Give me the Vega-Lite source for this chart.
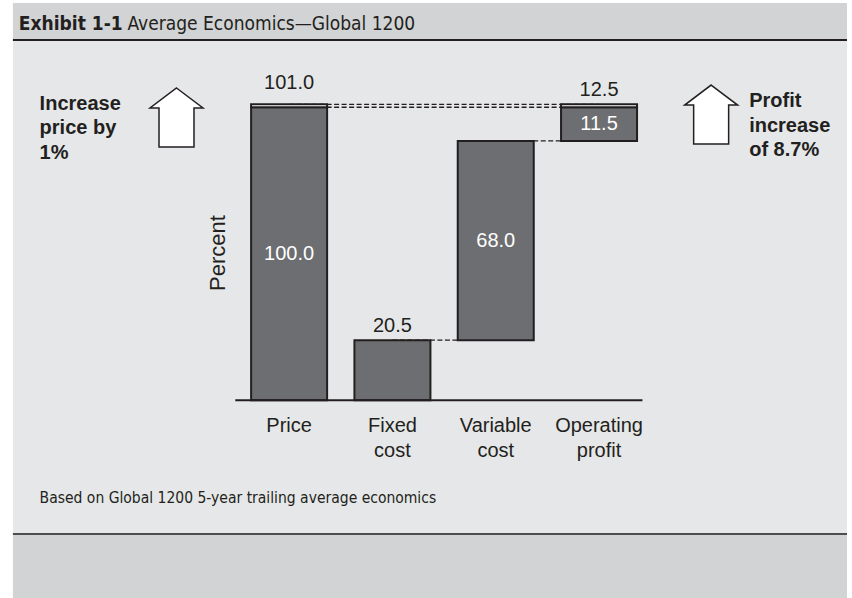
{
  "$schema": "https://vega.github.io/schema/vega-lite/v6.json",
  "width": 852,
  "height": 598,
  "padding": 0,
  "autosize": {"type": "none"},
  "background": "#ffffff",
  "config": {"view": {"stroke": null}, "text": {"font": "Liberation Sans", "color": "#231f20"}},
  "datasets": {
    "bars": [
      {"step": 1, "category": "Price", "start": 0, "end": 100, "part": "base"},
      {"step": 1, "category": "Price", "start": 100, "end": 101, "part": "increase"},
      {"step": 2, "category": "Fixed cost", "start": 0, "end": 20.5, "part": "base"},
      {"step": 3, "category": "Variable cost", "start": 20.5, "end": 88.5, "part": "base"},
      {"step": 4, "category": "Operating profit", "start": 88.5, "end": 100, "part": "base"},
      {"step": 4, "category": "Operating profit", "start": 100, "end": 101, "part": "increase"}
    ],
    "connectors": [
      {"from": 1, "to": 4, "level": 101},
      {"from": 1, "to": 4, "level": 100},
      {"from": 2, "to": 3, "level": 20.5},
      {"from": 3, "to": 4, "level": 88.5}
    ],
    "labels": [
      {"step": 1, "text": "101.0", "value": 101, "pos": "above"},
      {"step": 4, "text": "12.5", "value": 101, "pos": "above"},
      {"step": 2, "text": "20.5", "value": 20.5, "pos": "above"},
      {"step": 1, "text": "100.0", "value": 50, "pos": "inside"},
      {"step": 3, "text": "68.0", "value": 54.5, "pos": "inside"},
      {"step": 4, "text": "11.5", "value": 94.25, "pos": "inside"}
    ],
    "categories": [
      {"step": 1, "label": "Price"},
      {"step": 2, "label": "Fixed\ncost"},
      {"step": 3, "label": "Variable\ncost"},
      {"step": 4, "label": "Operating\nprofit"}
    ],
    "panel": [
      {"part": "header"},
      {"part": "body"},
      {"part": "footer"}
    ],
    "notes": [
      {"id": "exhibit", "text": "Exhibit 1-1"},
      {"id": "title", "text": "Average Economics—Global 1200"},
      {"id": "left", "text": "Increase\nprice by\n1%"},
      {"id": "right", "text": "Profit\nincrease\nof 8.7%"},
      {"id": "ytitle", "text": "Percent"},
      {"id": "footnote", "text": "Based on Global 1200 5-year trailing average economics"}
    ]
  },
  "layer": [
    {"data": {"name": "panel"},
     "transform": [{"filter": "datum.part == 'header'"}],
     "mark": {"type": "rect", "fill": "#d1d3d4"},
     "encoding": {
       "x": {"datum": -1.6735, "type": "quantitative", "scale": {"type": "linear", "domain": [-1.75, 6.4], "nice": false, "zero": false}, "axis": null},
       "x2": {"datum": 6.4},
       "y": {"datum": 135.58, "type": "quantitative", "scale": {"type": "linear", "domain": [-67.5, 136.6], "nice": false, "zero": false}, "axis": null},
       "y2": {"datum": 122.95}}},
    {"data": {"name": "panel"},
     "transform": [{"filter": "datum.part == 'body'"}],
     "mark": {"type": "rect", "fill": "#e6e7e8"},
     "encoding": {
       "x": {"datum": -1.6735, "type": "quantitative"},
       "x2": {"datum": 6.4},
       "y": {"datum": 122.95, "type": "quantitative"},
       "y2": {"datum": -45.66}}},
    {"data": {"name": "panel"},
     "transform": [{"filter": "datum.part == 'footer'"}],
     "mark": {"type": "rect", "fill": "#d1d3d4"},
     "encoding": {
       "x": {"datum": -1.6735, "type": "quantitative"},
       "x2": {"datum": 6.4},
       "y": {"datum": -45.66, "type": "quantitative"},
       "y2": {"datum": -67.5}}},
    {"data": {"name": "panel"},
     "transform": [{"filter": "datum.part == 'header'"}],
     "mark": {"type": "rule", "stroke": "#231f20", "strokeWidth": 2},
     "encoding": {
       "x": {"datum": -1.6735, "type": "quantitative"},
       "x2": {"datum": 6.4},
       "y": {"datum": 122.95, "type": "quantitative"}}},
    {"data": {"name": "panel"},
     "transform": [{"filter": "datum.part == 'footer'"}],
     "mark": {"type": "rule", "stroke": "#4d4d4f", "strokeWidth": 2},
     "encoding": {
       "x": {"datum": -1.6735, "type": "quantitative"},
       "x2": {"datum": 6.4},
       "y": {"datum": -45.66, "type": "quantitative"}}},
    {"data": {"name": "connectors"},
     "mark": {"type": "rule", "strokeDash": [5, 2.5], "strokeWidth": 1.3, "color": "#231f20"},
     "encoding": {
       "x": {"field": "from", "type": "quantitative"},
       "x2": {"field": "to"},
       "y": {"field": "level", "type": "quantitative"}}},
    {"data": {"name": "bars"},
     "mark": {"type": "bar", "width": 76, "stroke": "#231f20", "strokeWidth": 2},
     "encoding": {
       "x": {"field": "step", "type": "quantitative"},
       "y": {"field": "start", "type": "quantitative"},
       "y2": {"field": "end"},
       "fill": {"field": "part", "type": "nominal", "scale": {"domain": ["base", "increase"], "range": ["#6d6e71", "#ffffff"]}, "legend": null},
       "tooltip": {"field": "category", "type": "nominal"}}},
    {"data": {"name": "categories"},
     "transform": [{"filter": "datum.step == 1"}],
     "mark": {"type": "rule", "stroke": "#231f20", "strokeWidth": 2},
     "encoding": {
       "x": {"datum": 0.479, "type": "quantitative"},
       "x2": {"datum": 4.42},
       "y": {"datum": 0, "type": "quantitative"}}},
    {"data": {"name": "labels"},
     "transform": [{"filter": "datum.pos == 'above' && datum.step == 1"}],
     "mark": {"type": "text", "fontSize": 20, "baseline": "alphabetic", "dy": -15},
     "encoding": {
       "x": {"field": "step", "type": "quantitative"},
       "y": {"field": "value", "type": "quantitative"},
       "text": {"field": "text"}}},
    {"data": {"name": "labels"},
     "transform": [{"filter": "datum.pos == 'above' && datum.step != 1"}],
     "mark": {"type": "text", "fontSize": 20, "baseline": "alphabetic", "dy": -8},
     "encoding": {
       "x": {"field": "step", "type": "quantitative"},
       "y": {"field": "value", "type": "quantitative"},
       "text": {"field": "text"}}},
    {"data": {"name": "labels"},
     "transform": [{"filter": "datum.pos == 'inside'"}],
     "mark": {"type": "text", "fontSize": 20, "baseline": "middle", "color": "#ffffff"},
     "encoding": {
       "x": {"field": "step", "type": "quantitative"},
       "y": {"field": "value", "type": "quantitative"},
       "text": {"field": "text"}}},
    {"data": {"name": "categories"},
     "mark": {"type": "text", "fontSize": 20, "baseline": "alphabetic", "dy": 32, "lineBreak": "\n", "lineHeight": 25},
     "encoding": {
       "x": {"field": "step", "type": "quantitative"},
       "y": {"datum": 0, "type": "quantitative"},
       "text": {"field": "label"}}},
    {"data": {"name": "notes"},
     "transform": [{"filter": "datum.id == 'left'"}],
     "mark": {"type": "point", "shape": "M0,-1L0.898,-0.322L0.593,-0.322L0.593,1L-0.593,1L-0.593,-0.322L-0.898,-0.322Z", "size": 3481, "filled": true, "fill": "#ffffff", "stroke": "#231f20", "strokeWidth": 1.5, "opacity": 1},
     "encoding": {
       "x": {"datum": -0.09, "type": "quantitative"},
       "y": {"datum": 96.5, "type": "quantitative"}}},
    {"data": {"name": "notes"},
     "transform": [{"filter": "datum.id == 'right'"}],
     "mark": {"type": "point", "shape": "M0,-1L0.898,-0.322L0.593,-0.322L0.593,1L-0.593,1L-0.593,-0.322L-0.898,-0.322Z", "size": 3481, "filled": true, "fill": "#ffffff", "stroke": "#231f20", "strokeWidth": 1.5, "opacity": 1},
     "encoding": {
       "x": {"datum": 5.085, "type": "quantitative"},
       "y": {"datum": 97.5, "type": "quantitative"}}},
    {"data": {"name": "notes"},
     "transform": [{"filter": "datum.id == 'exhibit'"}],
     "mark": {"type": "text", "font": "DejaVu Sans Condensed", "fontWeight": "bold", "fontSize": 19, "align": "left", "baseline": "alphabetic"},
     "encoding": {
       "x": {"datum": -1.616, "type": "quantitative"},
       "y": {"datum": 126.36, "type": "quantitative"},
       "text": {"field": "text"}}},
    {"data": {"name": "notes"},
     "transform": [{"filter": "datum.id == 'title'"}],
     "mark": {"type": "text", "font": "DejaVu Sans Condensed", "fontSize": 19, "align": "left", "baseline": "alphabetic"},
     "encoding": {
       "x": {"datum": -0.564, "type": "quantitative"},
       "y": {"datum": 126.36, "type": "quantitative"},
       "text": {"field": "text"}}},
    {"data": {"name": "notes"},
     "transform": [{"filter": "datum.id == 'left'"}],
     "mark": {"type": "text", "fontWeight": "bold", "fontSize": 20, "align": "left", "baseline": "alphabetic", "lineBreak": "\n", "lineHeight": 24.5},
     "encoding": {
       "x": {"datum": -1.415, "type": "quantitative"},
       "y": {"datum": 99.06, "type": "quantitative"},
       "text": {"field": "text"}}},
    {"data": {"name": "notes"},
     "transform": [{"filter": "datum.id == 'right'"}],
     "mark": {"type": "text", "fontWeight": "bold", "fontSize": 20, "align": "left", "baseline": "alphabetic", "lineBreak": "\n", "lineHeight": 24.5},
     "encoding": {
       "x": {"datum": 5.453, "type": "quantitative"},
       "y": {"datum": 100.08, "type": "quantitative"},
       "text": {"field": "text"}}},
    {"data": {"name": "notes"},
     "transform": [{"filter": "datum.id == 'ytitle'"}],
     "mark": {"type": "text", "fontSize": 22, "angle": 270, "align": "center", "baseline": "middle"},
     "encoding": {
       "x": {"datum": 0.307, "type": "quantitative"},
       "y": {"datum": 50.25, "type": "quantitative"},
       "text": {"field": "text"}}},
    {"data": {"name": "notes"},
     "transform": [{"filter": "datum.id == 'footnote'"}],
     "mark": {"type": "text", "font": "DejaVu Sans Condensed", "fontSize": 15.5, "align": "left", "baseline": "alphabetic"},
     "encoding": {
       "x": {"datum": -1.415, "type": "quantitative"},
       "y": {"datum": -35.24, "type": "quantitative"},
       "text": {"field": "text"}}}
  ]
}
